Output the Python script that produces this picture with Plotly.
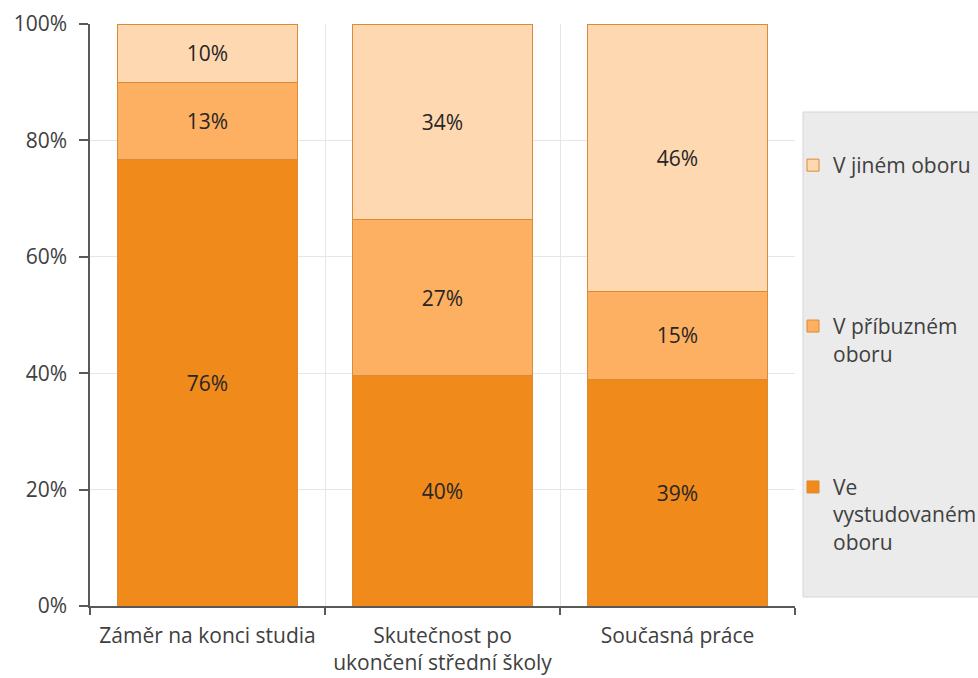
import plotly.graph_objects as go

categories = ["Záměr na konci studia", "Skutečnost po<br>ukončení střední školy", "Současná práce"]
series_names = ["Ve<br>vystudovaném<br>oboru", "V příbuzném<br>oboru<br>&nbsp;", "V jiném oboru<br>&nbsp;<br>&nbsp;"]
ve_vystudovanem = [76, 40, 39]
v_pribuznem = [13, 27, 15]
v_jinem = [10, 34, 46]
colors = ["#F08A1B", "#FDB062", "#FED8B0"]
y_ticks = [0, 20, 40, 60, 80, 100]
y_tick_labels = [f"{v}%" for v in y_ticks]

FONT = "Open Sans"
TXT = "#404040"

fig = go.Figure()
for i, (name, vals) in enumerate(zip(series_names, [ve_vystudovanem, v_pribuznem, v_jinem])):
    fig.add_trace(go.Bar(
        x=categories, y=vals, name=name, legendgroup=f"g{i}", legendrank=3 - i,
        marker=dict(color=colors[i], line=dict(color="#DC8A35", width=1)),
        text=[f"{v}%" for v in vals], textposition="inside", insidetextanchor="middle",
        textangle=0, constraintext="none",
        textfont=dict(family=FONT, size=21, color="#262626"),
    ))

# legend background box
fig.add_shape(type="rect", xref="paper", yref="paper",
              x0=(803 - 90) / 705, x1=1.4, y0=(606 - 597) / 582, y1=(606 - 112) / 582,
              fillcolor="#EBEBEB", line=dict(color="#D5D5D5", width=1), layer="below")

fig.update_layout(
    width=978, height=678,
    margin=dict(l=90, r=183, t=24, b=72, autoexpand=False),
    barmode="stack", barnorm="percent", bargap=0.234,
    plot_bgcolor="white", paper_bgcolor="white",
    font=dict(family=FONT, size=21, color=TXT),
    showlegend=True,
    legend=dict(x=(793 - 90) / 705, xanchor="left", y=(606 - 145) / 582, yanchor="top",
                bgcolor="rgba(0,0,0,0)", traceorder="grouped", tracegroupgap=76,
                valign="top", font=dict(family=FONT, size=21, color=TXT)),
    xaxis=dict(tickson="boundaries", showgrid=True, gridcolor="#E6E6E6", gridwidth=1,
               showline=True, linecolor="#595959", linewidth=1.5,
               ticks="outside", ticklen=7, tickcolor="#595959", tickwidth=1.5,
               ticklabelstandoff=10,
               tickfont=dict(family=FONT, size=21, color=TXT), tickangle=0),
    yaxis=dict(range=[0, 100], tickvals=y_ticks, ticktext=y_tick_labels, showgrid=True,
               gridcolor="#E6E6E6", gridwidth=1, showline=True, linecolor="#595959",
               linewidth=1.5, ticks="outside", ticklen=9, tickcolor="#595959",
               tickwidth=1.5, zeroline=False, ticklabelstandoff=8,
               tickfont=dict(family=FONT, size=21, color=TXT)),
)

fig.write_html("out.html", config={"displayModeBar": False},
               post_script="document.body.style.margin='0';document.body.style.overflow='hidden';")
